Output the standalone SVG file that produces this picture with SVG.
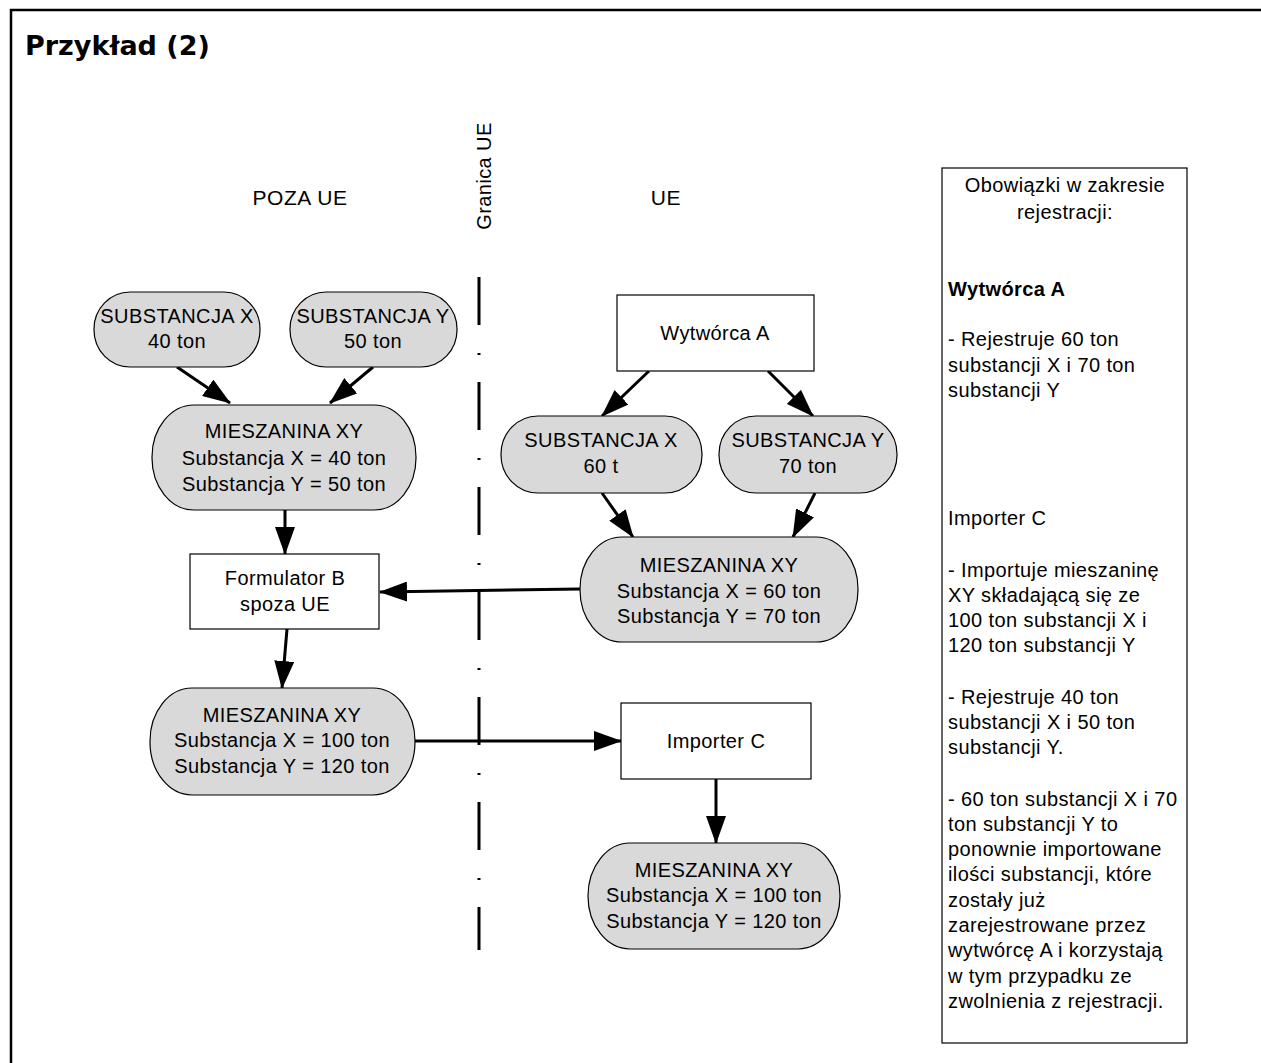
<svg xmlns="http://www.w3.org/2000/svg" width="1261" height="1063" viewBox="0 0 1261 1063">
  <style>
    .t { font-family: "Liberation Sans", Arial, sans-serif; font-size: 20px; fill: #000; letter-spacing: 0.4px; }
    .lbl { font-family: "Liberation Sans", Arial, sans-serif; font-size: 21px; fill: #000; letter-spacing: 0.6px; text-anchor: middle; }
    .c { text-anchor: middle; }
    .b { font-weight: bold; }
    .title { font-family: "DejaVu Sans", Verdana, sans-serif; font-size: 27px; font-weight: bold; fill: #000; }
    .pill { fill: #d9d9d9; stroke: #000; stroke-width: 1.2; }
    .box { fill: #fff; stroke: #000; stroke-width: 1.2; }
    .edge { stroke: #000; stroke-width: 3; fill: none; marker-end: url(#head); }
  </style>
  <defs>
    <marker id="head" markerUnits="userSpaceOnUse" viewBox="0 0 28 20" markerWidth="28" markerHeight="20" refX="27" refY="10" orient="auto">
      <path d="M0,0 L28,10 L0,20 Z" fill="#000"/>
    </marker>
  </defs>

  <rect width="1261" height="1063" fill="#fff"/>
  <!-- outer frame -->
  <rect x="11" y="10" width="1270" height="1080" fill="none" stroke="#000" stroke-width="2.5"/>

  <text class="title" x="25" y="55">Przykład (2)</text>

  <!-- region labels and border line -->
  <text class="lbl" x="300" y="205">POZA UE</text>
  <text class="lbl" x="666" y="205">UE</text>
  <text class="t c" transform="translate(491,176) rotate(-90)">Granica UE</text>
  <line x1="479" y1="277" x2="479" y2="950" stroke="#000" stroke-width="3" stroke-dasharray="48 28 2 27"/>

  <!-- connectors -->
  <g id="connectors">
    <line class="edge" x1="177" y1="367" x2="230" y2="403"/>
    <line class="edge" x1="373" y1="367" x2="330" y2="403"/>
    <line class="edge" x1="285" y1="510" x2="285" y2="554"/>
    <line class="edge" x1="287" y1="629" x2="282" y2="688"/>
    <line class="edge" x1="414" y1="741" x2="621" y2="741"/>
    <line class="edge" x1="716" y1="779" x2="716" y2="843"/>
    <line class="edge" x1="649" y1="371" x2="602" y2="416"/>
    <line class="edge" x1="768" y1="371" x2="813" y2="416"/>
    <line class="edge" x1="602" y1="493" x2="633" y2="537"/>
    <line class="edge" x1="815" y1="493" x2="793" y2="537"/>
    <line class="edge" x1="580" y1="589" x2="380" y2="592"/>
  </g>

  <!-- outside the EU -->
  <g id="subX-out">
    <rect class="pill" x="94" y="292" width="166" height="75" rx="36" ry="37"/>
    <text class="t c" x="177" y="323">SUBSTANCJA X</text>
    <text class="t c" x="177" y="348">40 ton</text>
  </g>
  <g id="subY-out">
    <rect class="pill" x="290" y="292" width="167" height="75" rx="36" ry="37"/>
    <text class="t c" x="373" y="323">SUBSTANCJA Y</text>
    <text class="t c" x="373" y="348">50 ton</text>
  </g>
  <g id="mix-out-1">
    <rect class="pill" x="152" y="405" width="264" height="105" rx="42" ry="52"/>
    <text class="t c" x="284" y="438">MIESZANINA XY</text>
    <text class="t c" x="284" y="465">Substancja X = 40 ton</text>
    <text class="t c" x="284" y="491">Substancja Y = 50 ton</text>
  </g>
  <g id="formulator-b">
    <rect class="box" x="190" y="554" width="189" height="75"/>
    <text class="t c" x="285" y="585">Formulator B</text>
    <text class="t c" x="285" y="611">spoza UE</text>
  </g>
  <g id="mix-out-2">
    <rect class="pill" x="150" y="688" width="265" height="107" rx="42" ry="53"/>
    <text class="t c" x="282" y="722">MIESZANINA XY</text>
    <text class="t c" x="282" y="747">Substancja X = 100 ton</text>
    <text class="t c" x="282" y="773">Substancja Y = 120 ton</text>
  </g>

  <!-- inside the EU -->
  <g id="manufacturer-a">
    <rect class="box" x="617" y="295" width="197" height="76"/>
    <text class="t c" x="715" y="340">Wytwórca A</text>
  </g>
  <g id="subX-in">
    <rect class="pill" x="501" y="416" width="201" height="77" rx="37" ry="38"/>
    <text class="t c" x="601" y="447">SUBSTANCJA X</text>
    <text class="t c" x="601" y="473">60 t</text>
  </g>
  <g id="subY-in">
    <rect class="pill" x="719" y="416" width="178" height="77" rx="37" ry="38"/>
    <text class="t c" x="808" y="447">SUBSTANCJA Y</text>
    <text class="t c" x="808" y="473">70 ton</text>
  </g>
  <g id="mix-in">
    <rect class="pill" x="580" y="537" width="278" height="105" rx="42" ry="52"/>
    <text class="t c" x="719" y="572">MIESZANINA XY</text>
    <text class="t c" x="719" y="598">Substancja X = 60 ton</text>
    <text class="t c" x="719" y="623">Substancja Y = 70 ton</text>
  </g>
  <g id="importer-c">
    <rect class="box" x="621" y="703" width="190" height="76"/>
    <text class="t c" x="716" y="748">Importer C</text>
  </g>
  <g id="mix-import">
    <rect class="pill" x="588" y="843" width="252" height="106" rx="42" ry="53"/>
    <text class="t c" x="714" y="877">MIESZANINA XY</text>
    <text class="t c" x="714" y="902">Substancja X = 100 ton</text>
    <text class="t c" x="714" y="928">Substancja Y = 120 ton</text>
  </g>

  <!-- registration duties panel -->
  <g id="duties">
    <rect class="box" x="942" y="168" width="245" height="875"/>
    <text class="t c" x="1065" y="192">Obowiązki w zakresie</text>
    <text class="t c" x="1065" y="219">rejestracji:</text>
    <text class="t b" x="948" y="296">Wytwórca A</text>
    <text class="t" x="948" y="346">- Rejestruje 60 ton</text>
    <text class="t" x="948" y="372">substancji X i 70 ton</text>
    <text class="t" x="948" y="397">substancji Y</text>
    <text class="t" x="948" y="525">Importer C</text>
    <text class="t" x="948" y="577">- Importuje mieszaninę</text>
    <text class="t" x="948" y="602">XY składającą się ze</text>
    <text class="t" x="948" y="627">100 ton substancji X i</text>
    <text class="t" x="948" y="652">120 ton substancji Y</text>
    <text class="t" x="948" y="704">- Rejestruje 40 ton</text>
    <text class="t" x="948" y="729">substancji X i 50 ton</text>
    <text class="t" x="948" y="754">substancji Y.</text>
    <text class="t" x="948" y="806">- 60 ton substancji X i 70</text>
    <text class="t" x="948" y="831">ton substancji Y to</text>
    <text class="t" x="948" y="856">ponownie importowane</text>
    <text class="t" x="948" y="881">ilości substancji, które</text>
    <text class="t" x="948" y="907">zostały już</text>
    <text class="t" x="948" y="932">zarejestrowane przez</text>
    <text class="t" x="948" y="957">wytwórcę A i korzystają</text>
    <text class="t" x="948" y="983">w tym przypadku ze</text>
    <text class="t" x="948" y="1008">zwolnienia z rejestracji.</text>
  </g>
</svg>
